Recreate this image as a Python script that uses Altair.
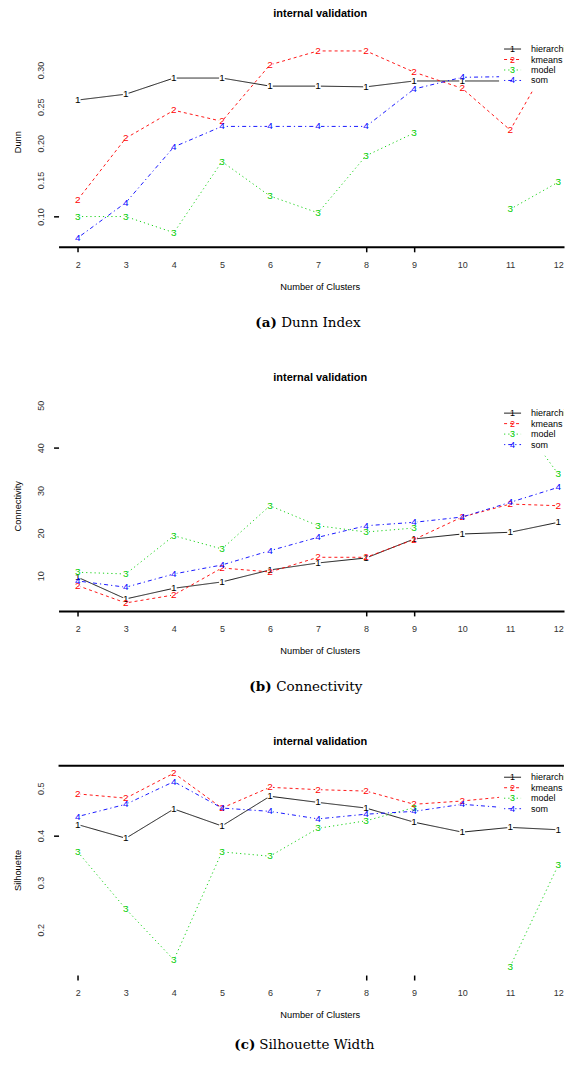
import altair as alt
import pandas as pd

clusters = [2, 3, 4, 5, 6, 7, 8, 9, 10, 11, 12]
methods = ["hierarchical", "kmeans", "model", "som"]
method_digits = ["1", "2", "3", "4"]
method_colors = ["#000000", "#FF0000", "#00CD00", "#0000FF"]
method_dashes = [[1, 0], [3, 3], [1.2, 3], [1.2, 3, 4, 3]]

dunn_hierarchical = [0.259, 0.267, 0.289, 0.289, 0.278, 0.278, 0.277, 0.285, 0.285, 0.285, 0.285]
dunn_kmeans = [0.123, 0.207, 0.245, 0.230, 0.307, 0.326, 0.326, 0.297, 0.275, 0.218, 0.333]
dunn_model = [0.100, 0.100, 0.078, 0.175, 0.128, 0.105, 0.183, 0.214, None, 0.110, 0.147]
dunn_som = [0.071, 0.119, 0.195, 0.223, 0.223, 0.223, 0.223, 0.274, 0.290, 0.291, 0.297]

conn_hierarchical = [9.65, 4.57, 7.07, 8.55, 11.36, 13.0, 14.17, 18.62, 19.79, 20.19, 22.53]
conn_kmeans = [7.68, 3.63, 5.50, 11.83, 10.89, 14.33, 14.33, 18.50, 23.77, 26.81, 26.42]
conn_model = [10.82, 10.42, 19.39, 16.28, 26.42, 21.73, 20.26, 21.19, None, 49.30, 33.84]
conn_som = [8.78, 7.31, 10.42, 12.53, 15.88, 19.02, 21.73, 22.53, 23.77, 27.21, 30.73]

sil_hierarchical = [0.423, 0.394, 0.456, 0.420, 0.483, 0.470, 0.458, 0.428, 0.407, 0.417, 0.412]
sil_kmeans = [0.488, 0.479, 0.532, 0.458, 0.502, 0.497, 0.494, 0.466, 0.473, 0.483, 0.490]
sil_model = [0.365, 0.244, 0.136, 0.365, 0.356, 0.415, 0.431, 0.459, None, 0.122, 0.337]
sil_som = [0.440, 0.466, 0.514, 0.458, 0.451, 0.435, 0.445, 0.451, 0.466, 0.458, 0.462]

dunn_ticks = [0.10, 0.15, 0.20, 0.25, 0.30]
conn_ticks = [10, 20, 30, 40, 50]
sil_ticks = [0.2, 0.3, 0.4, 0.5]

W = 506
H = 209.5
X_DOMAIN = [1.6, 12.1198]
FONT = "Liberation Sans"
SERIF = "DejaVu Serif"


def series_frame(values_by_method):
    rows = []
    for m, d, vals in zip(methods, method_digits, values_by_method):
        seg = 0
        for k, v in zip(clusters, vals):
            if v is None:
                seg += 1
                continue
            rows.append({"k": k, "value": v, "method": m, "digit": d, "seg": f"{m}-{seg}"})
    return pd.DataFrame(rows)


def text_layer(txt, x, y, size, weight="normal", font=FONT, angle=0, align="center"):
    return alt.Chart(pd.DataFrame({"t": [txt]})).mark_text(
        font=font, fontSize=size, fontWeight=weight, angle=angle, align=align,
        baseline="middle", color="black"
    ).encode(text="t:N", x=alt.value(x), y=alt.value(y))


def panel(values, ylabel, ydomain, yticks, yfmt, ytick_shown, cap_label, cap_text,
          cap_x, cap_tx, cap_off, top_line=False):
    df = series_frame(values)
    lo, hi = ydomain
    xs = alt.X("k:Q", scale=alt.Scale(domain=X_DOMAIN, nice=False, zero=False),
               axis=alt.Axis(values=clusters, format="d", title=None, grid=False,
                             domain=not top_line, domainColor="black", domainWidth=2,
                             tickColor="black", tickSize=5, tickWidth=1.5,
                             tickOpacity={"condition": {"test": "indexof([2,8,9], datum.value) >= 0", "value": 1}, "value": 0},
                             labelFontSize=9, labelColor="#333333", labelPadding=9,
                             labelFont=FONT))
    ys = alt.Y("value:Q", scale=alt.Scale(domain=[lo, hi], nice=False, zero=False),
               axis=alt.Axis(values=yticks, format=yfmt, title=None, grid=False, domain=False,
                             tickSize=5, tickColor="black", tickWidth=1.5,
                             tickOpacity={"condition": {"test": f"abs(datum.value - {ytick_shown}) < 1e-6", "value": 1}, "value": 0},
                             labelAngle=270, labelAlign="center", labelBaseline="middle",
                             labelPadding=13, labelFontSize=9, labelColor="#333333",
                             labelFont=FONT))
    color = alt.Color("method:N", scale=alt.Scale(domain=methods, range=method_colors), legend=None)
    dash = alt.StrokeDash("method:N", scale=alt.Scale(domain=methods, range=method_dashes), legend=None)

    lines = alt.Chart(df).mark_line(strokeWidth=0.9).encode(
        x=xs, y=ys, color=color, strokeDash=dash, detail="seg:N", order="k:Q")
    halos = alt.Chart(df).mark_point(filled=True, shape="circle", size=34, color="white", opacity=1).encode(
        x="k:Q", y="value:Q")
    digits = alt.Chart(df).mark_text(fontSize=10, font=FONT).encode(
        x="k:Q", y="value:Q", text="digit:N", color=color)

    rows_px = [11.5 + 10.5 * i for i in range(len(methods))]
    leg = pd.DataFrame({
        "method": methods,
        "digit": method_digits,
        "value": [hi - p / H * (hi - lo) for p in rows_px],
    })
    leg_bg = alt.Chart(pd.DataFrame({"a": [0]})).mark_rect(color="white").encode(
        x=alt.value(441), x2=alt.value(W), y=alt.value(0), y2=alt.value(54))
    leg_lines = alt.Chart(leg).mark_rule(strokeWidth=0.9).encode(
        x=alt.value(446), x2=alt.value(463), y="value:Q", color=color, strokeDash=dash)
    leg_digits = alt.Chart(leg).mark_text(fontSize=9, font=FONT).encode(
        x=alt.value(454.5), y="value:Q", text="digit:N", color=color)
    leg_labels = alt.Chart(leg).mark_text(fontSize=9, font=FONT, align="left", clip=True, color="black").encode(
        x=alt.value(473), y="value:Q", text="method:N")

    layers = [lines, halos, digits, leg_bg, leg_lines, leg_digits, leg_labels]
    if top_line:
        layers.append(alt.Chart(pd.DataFrame({"a": [0]})).mark_rule(strokeWidth=2, color="black").encode(
            x=alt.value(0), x2=alt.value(W), y=alt.value(0)))
    layers += [
        text_layer("internal validation", 262, -24, 11, weight="bold"),
        text_layer(ylabel, -40.5, H / 2, 9.3, angle=270),
        text_layer("Number of Clusters", 262, H + 40.5, 9.3),
        text_layer(cap_label, cap_x, H + cap_off, 13.5, weight="bold", font=SERIF, align="left"),
        text_layer(cap_text, cap_tx, H + cap_off, 13.5, font=SERIF, align="left"),
    ]
    return alt.layer(*layers).properties(width=W, height=H)


p1 = panel([dunn_hierarchical, dunn_kmeans, dunn_model, dunn_som], "Dunn",
           (0.0587, 0.3443), dunn_ticks, ".2f", 0.10, "(a)", "Dunn Index", 197, 223, 76.5)
p2 = panel([conn_hierarchical, conn_kmeans, conn_model, conn_som], "Connectivity",
           (1.76, 50.82), conn_ticks, "d", 40, "(b)", "Connectivity", 191, 218, 76)
p3 = panel([sil_hierarchical, sil_kmeans, sil_model, sil_som], "Silhouette",
           (0.104, 0.5477), sil_ticks, ".1f", 0.4, "(c)", "Silhouette Width", 176, 201, 70,
           top_line=True)

chart = alt.vconcat(p1, p2, p3, spacing=154.5, bounds="flush").properties(
    padding={"left": 5.6, "top": -2, "right": 0, "bottom": -1}
).configure_view(stroke="transparent")

chart.save("out.html", embed_options={"renderer": "svg", "actions": False})
